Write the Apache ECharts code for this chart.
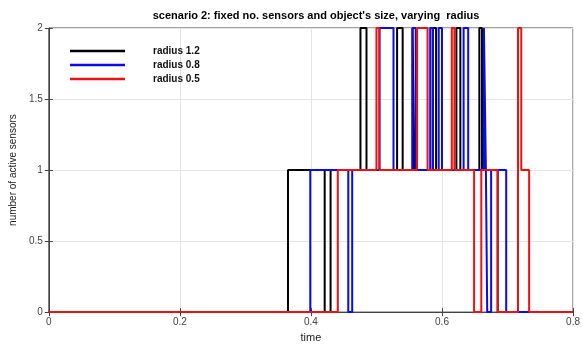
<!DOCTYPE html>
<html>
<head>
<meta charset="utf-8">
<script src="https://cdn.jsdelivr.net/npm/echarts@6/dist/echarts.min.js"></script>
<style>
  html, body { margin: 0; padding: 0; background: #fff; }
  #chart { width: 583px; height: 348px; }
</style>
</head>
<body>
<div id="chart"></div>
<script>
// Number of active sensors over time; each entry marks the time a new count starts.
const seriesNames = ['radius 1.2', 'radius 0.8', 'radius 0.5'];

const timeR12 = [0, 0.365, 0.421, 0.430, 0.4756, 0.4848, 0.5315, 0.540, 0.555, 0.558, 0.586, 0.591, 0.622, 0.628, 0.657, 0.661, 0.685, 0.8];
const countR12 = [0, 1, 0, 1, 2, 1, 2, 1, 2, 1, 2, 1, 2, 1, 2, 1, 0, 0];

const timeR08 = [0, 0.399, 0.457, 0.463, 0.5046, 0.526, 0.555, 0.560, 0.582, 0.586, 0.595, 0.600, 0.633, 0.640, 0.664, 0.667, 0.669, 0.675, 0.698, 0.8];
const countR08 = [0, 1, 0, 1, 2, 1, 2, 1, 2, 1, 2, 1, 2, 1, 2, 1, 0, 1, 0, 0];

const timeR05 = [0, 0.441, 0.500, 0.5045, 0.562, 0.578, 0.615, 0.619, 0.649, 0.660, 0.685, 0.716, 0.721, 0.733, 0.8];
const countR05 = [0, 1, 2, 1, 2, 1, 2, 1, 0, 1, 0, 2, 1, 0, 0];

const xTicks = [0, 0.2, 0.4, 0.6, 0.8];
const yTicks = [0, 0.5, 1, 1.5, 2];

const colors = ['#000000', '#0a0af0', '#ee1111'];

function pairs(ts, vs) {
  return ts.map((t, i) => [t, vs[i]]);
}

const font = '"Liberation Sans", Arial, sans-serif';

const chart = echarts.init(document.getElementById('chart'), null, { renderer: 'canvas' });

const baseX = {
  type: 'value', min: xTicks[0], max: xTicks[xTicks.length - 1], interval: 0.2,
};
const baseY = {
  type: 'value', min: yTicks[0], max: yTicks[yTicks.length - 1], interval: 0.5,
};

chart.setOption({
  animation: false,
  color: colors,
  title: {
    text: "scenario 2: fixed no. sensors and object's size, varying  radius",
    left: 311, textAlign: 'center', top: 5,
    textStyle: { fontFamily: font, fontSize: 11, fontWeight: 'bold', color: '#000' }
  },
  legend: {
    left: 65, top: 41, orient: 'vertical',
    icon: 'rect',
    itemWidth: 55, itemHeight: 2.5, itemGap: 4,
    data: seriesNames,
    textStyle: {
      fontFamily: font, fontSize: 10, fontWeight: 'bold', color: '#111',
      lineHeight: 10, padding: [0, 0, 0, 23]
    }
  },
  grid: {
    left: 48, right: 9, top: 28, bottom: 25,
    show: true, borderColor: '#444', borderWidth: 1, backgroundColor: 'transparent'
  },
  xAxis: [
    Object.assign({}, baseX, {
      position: 'bottom',
      name: 'time', nameLocation: 'middle', nameGap: 14,
      nameTextStyle: { fontFamily: font, fontSize: 11, color: '#222' },
      axisLine: { show: true, lineStyle: { color: '#444', width: 1 } },
      axisTick: { show: true, inside: true, length: 4, lineStyle: { color: '#444' } },
      axisLabel: {
        fontFamily: font, fontSize: 10, color: '#444', margin: 5,
        formatter: v => String(+v.toFixed(1))
      },
      splitLine: { show: true, lineStyle: { color: '#e4e4e4', width: 1 } }
    }),
    Object.assign({}, baseX, {
      position: 'top',
      axisLine: { show: false },
      axisTick: { show: true, inside: true, length: 4, lineStyle: { color: '#444' } },
      axisLabel: { show: false },
      splitLine: { show: false }
    })
  ],
  yAxis: [
    Object.assign({}, baseY, {
      position: 'left',
      name: 'number of active sensors', nameLocation: 'middle', nameGap: 30,
      nameTextStyle: { fontFamily: font, fontSize: 10, color: '#222' },
      axisLine: { show: true, lineStyle: { color: '#444', width: 1 } },
      axisTick: { show: true, inside: true, length: 4, lineStyle: { color: '#444' } },
      axisLabel: {
        fontFamily: font, fontSize: 10, color: '#444', margin: 6,
        formatter: v => String(v)
      },
      splitLine: { show: true, lineStyle: { color: '#e4e4e4', width: 1 } }
    }),
    Object.assign({}, baseY, {
      position: 'right',
      axisLine: { show: false },
      axisTick: { show: true, inside: true, length: 4, lineStyle: { color: '#444' } },
      axisLabel: { show: false },
      splitLine: { show: false }
    })
  ],
  series: [
    { name: seriesNames[0], type: 'line', step: 'end', symbol: 'none',
      lineStyle: { width: 2, color: colors[0] }, data: pairs(timeR12, countR12) },
    { name: seriesNames[1], type: 'line', step: 'end', symbol: 'none',
      lineStyle: { width: 2, color: colors[1] }, data: pairs(timeR08, countR08) },
    { name: seriesNames[2], type: 'line', step: 'end', symbol: 'none',
      lineStyle: { width: 2, color: colors[2] }, data: pairs(timeR05, countR05) }
  ]
});
</script>
</body>
</html>
